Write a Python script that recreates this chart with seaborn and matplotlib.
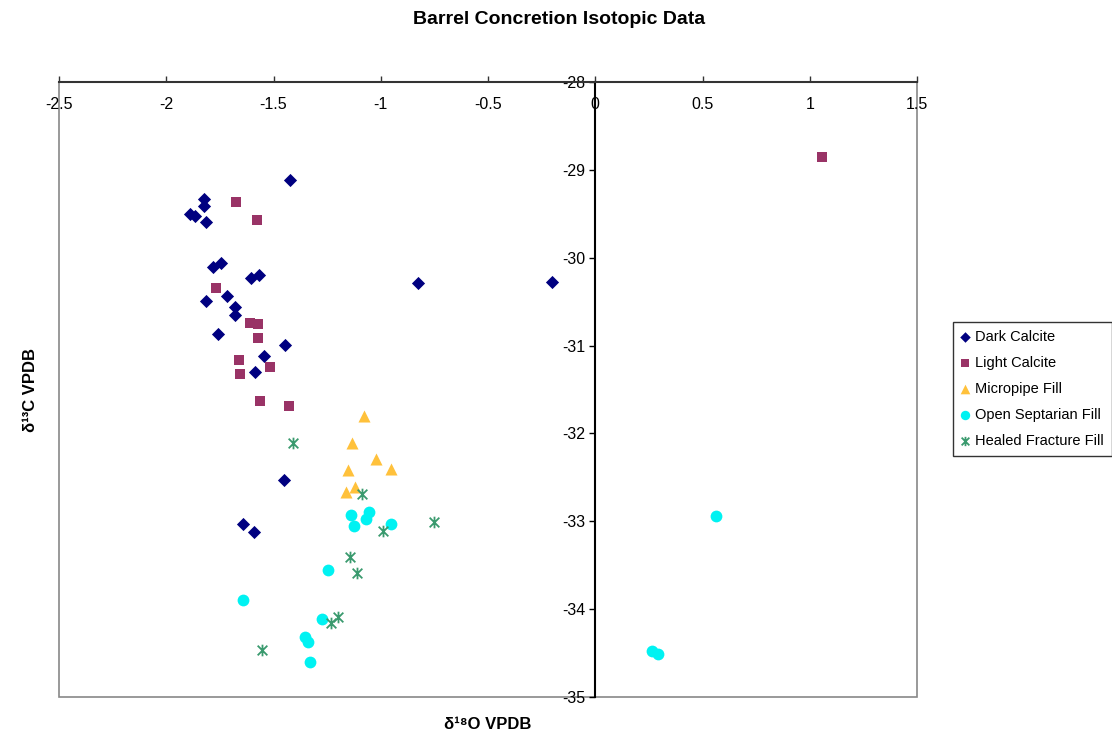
import matplotlib
matplotlib.use("Agg")
import matplotlib.pyplot as plt
import seaborn as sns
import pandas as pd
from matplotlib.patches import Rectangle
from matplotlib.path import Path

# Data (d18O, d13C in permil VPDB)
dark_x = [-1.425, -1.826, -1.826, -1.888, -1.868, -1.815, -1.782, -1.745, -1.605, -1.568,
          -1.815, -1.716, -1.678, -1.678, -1.759, -1.445, -1.542, -1.588, -0.825, -0.200,
          -1.453, -1.642, -1.590]
dark_y = [-29.11, -29.335, -29.41, -29.50, -29.52, -29.59, -30.11, -30.06, -30.23, -30.20,
          -30.49, -30.44, -30.56, -30.65, -30.87, -30.99, -31.12, -31.30, -30.29, -30.28,
          -32.53, -33.03, -33.12]

light_x = [-1.677, -1.576, -1.768, -1.608, -1.570, -1.571, -1.660, -1.656, -1.518, -1.562,
           -1.428, 1.058]
light_y = [-29.37, -29.57, -30.34, -30.74, -30.76, -30.91, -31.16, -31.32, -31.24, -31.63,
           -31.69, -28.85]

micro_x = [-1.080, -1.136, -1.024, -0.950, -1.155, -1.120, -1.161]
micro_y = [-31.80, -32.11, -32.29, -32.40, -32.42, -32.61, -32.67]

sept_x = [-1.138, -1.054, -1.068, -1.127, -0.952, -1.248, -1.643, -1.273, -1.353, -1.341,
          -1.332, 0.564, 0.264, 0.291]
sept_y = [-32.93, -32.90, -32.97, -33.05, -33.03, -33.56, -33.90, -34.11, -34.32, -34.37,
          -34.60, -32.94, -34.48, -34.51]

healed_x = [-1.409, -1.089, -0.990, -0.754, -1.142, -1.111, -1.201, -1.232, -1.552]
healed_y = [-32.11, -32.69, -33.11, -33.01, -33.41, -33.59, -34.09, -34.16, -34.46]

x_ticks = [-2.5, -2, -1.5, -1, -0.5, 0, 0.5, 1, 1.5]
x_tick_labels = ["-2.5", "-2", "-1.5", "-1", "-0.5", "0", "0.5", "1", "1.5"]
y_ticks = [-35, -34, -33, -32, -31, -30, -29, -28]
y_tick_labels = ["-35", "-34", "-33", "-32", "-31", "-30", "-29", "-28"]

sns.set_theme(style="white")
plt.rcParams["font.family"] = ["Liberation Sans", "DejaVu Sans"]
plt.rcParams["text.color"] = "black"
plt.rcParams["axes.labelcolor"] = "black"
plt.rcParams["xtick.color"] = "black"
plt.rcParams["ytick.color"] = "black"

# Excel style "star" marker: an X with a vertical bar
star = Path([(-1, -1), (1, 1), (-1, 1), (1, -1), (0, -1.2), (0, 1.2)],
            [Path.MOVETO, Path.LINETO, Path.MOVETO, Path.LINETO, Path.MOVETO, Path.LINETO])

series = [
    ("Dark Calcite", dark_x, dark_y, "#000080", "D", 45),
    ("Light Calcite", light_x, light_y, "#993366", "s", 62),
    ("Micropipe Fill", micro_x, micro_y, "#FFC13B", "^", 75),
    ("Open Septarian Fill", sept_x, sept_y, "#00F2F2", "o", 72),
    ("Healed Fracture Fill", healed_x, healed_y, "#3A9A6E", star, 70),
]

fig = plt.figure(figsize=(11.12, 7.36), dpi=100)
ax = fig.add_axes([59 / 1112, 1 - 697 / 736, 858 / 1112, 615 / 736])

for name, xs, ys, col, mk, sz in series:
    df = pd.DataFrame({"d18O": xs, "d13C": ys})
    if mk is star:
        sns.scatterplot(data=df, x="d18O", y="d13C", ax=ax, marker=mk, s=sz,
                        color=col, edgecolor=col, linewidth=1.3, label=name, legend=False)
    else:
        sns.scatterplot(data=df, x="d18O", y="d13C", ax=ax, marker=mk, s=sz,
                        color=col, linewidth=0, label=name, legend=False)

if ax.get_legend() is not None:
    ax.get_legend().remove()

ax.set_xlim(-2.5, 1.5)
ax.set_ylim(-35, -28)

# plot area border (grey) and Excel-like crossing axes
ax.add_patch(Rectangle((0, 0), 1, 1, transform=ax.transAxes, fill=False,
                       edgecolor="#888888", linewidth=1.2, clip_on=False, zorder=0))
ax.spines["bottom"].set_visible(False)
ax.spines["right"].set_visible(False)
ax.spines["top"].set_color("#333333")
ax.spines["top"].set_linewidth(1.5)
ax.spines["left"].set_position(("data", 0))
ax.spines["left"].set_color("black")
ax.spines["left"].set_linewidth(1.5)

ax.xaxis.tick_top()
ax.set_xticks(x_ticks)
ax.set_xticklabels(x_tick_labels)
ax.set_yticks(y_ticks)
ax.set_yticklabels(y_tick_labels)
ax.tick_params(axis="x", top=True, bottom=False, labeltop=True, labelbottom=False,
               direction="out", length=4, width=1, color="#333333", pad=-25.5, labelsize=11.5)
ax.tick_params(axis="y", left=True, right=False, direction="out", length=4, width=1,
               color="black", pad=3, labelsize=11.5)

ax.set_xlabel("δ¹⁸O VPDB", fontsize=12, fontweight="bold")
ax.xaxis.set_label_position("bottom")
ax.xaxis.set_label_coords(0.5, -0.032)
ax.set_ylabel("δ¹³C VPDB", fontsize=12, fontweight="bold")
ax.yaxis.set_label_coords(-0.025, 0.5)

fig.suptitle("Barrel Concretion Isotopic Data", x=0.503, y=0.973, va="center",
             fontsize=14, fontweight="bold")

handles, labels = ax.get_legend_handles_labels()
leg = fig.legend(handles, labels, loc="upper left", bbox_to_anchor=(953 / 1112, 1 - 322 / 736),
                 frameon=True, fancybox=False, fontsize=10.5, handlelength=0.6,
                 handletextpad=0.35, labelspacing=0.82, borderpad=0.55, borderaxespad=0,
                 markerscale=0.8)
leg.get_frame().set_edgecolor("black")
leg.get_frame().set_linewidth(1)

fig.savefig("out.png", dpi=100)
